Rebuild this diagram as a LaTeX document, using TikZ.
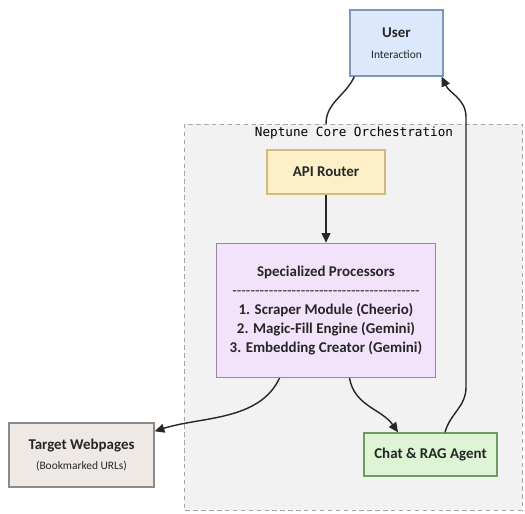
\documentclass[tikz,border=0pt]{standalone}
\usepackage{fontspec}
\setmainfont{Carlito}
\newfontfamily\monofont{DejaVu Sans Mono}
\newfontfamily\dashfont{Carlito}
\usetikzlibrary{calc, arrows, arrows.meta, positioning}

\definecolor{userfill}{HTML}{DCE8FB}
\definecolor{userdraw}{HTML}{7E98BC}
\definecolor{routerfill}{HTML}{FDF0C6}
\definecolor{routerdraw}{HTML}{D2B97C}
\definecolor{procfill}{HTML}{F2E3FA}
\definecolor{procdraw}{HTML}{9C82AA}
\definecolor{targetfill}{HTML}{EFE9E6}
\definecolor{targetdraw}{HTML}{8E8A88}
\definecolor{chatfill}{HTML}{DDF4D5}
\definecolor{chatdraw}{HTML}{6E9C60}

\begin{document}
\begin{tikzpicture} [node distance=0.96cm,
		% define styles
		basicnodestyle/.style={
			% The shape:
			rectangle,
			% The border:
			thick,
			% Text
			align=center,
			text=black!85,
			% Font
			font=\fontsize{8.5}{10.8}\selectfont\bfseries
		},
		usernodestyle/.style={
			basicnodestyle,
			% The size:
			minimum width=1.86cm, minimum height=1.32cm,
			% The colours:
			draw=userdraw, fill=userfill
		},
		routernodestyle/.style={
			basicnodestyle,
			% The size:
			minimum width=2.36cm, minimum height=0.88cm,
			% The colours:
			draw=routerdraw, fill=routerfill
		},
		procnodestyle/.style={
			basicnodestyle,
			% The size:
			minimum width=4.38cm, minimum height=2.68cm,
			% The colours:
			draw=procdraw, fill=procfill
		},
		targetnodestyle/.style={
			basicnodestyle,
			% The size:
			minimum width=2.9cm, minimum height=1.28cm,
			% The colours:
			draw=targetdraw, fill=targetfill
		},
		chatnodestyle/.style={
			basicnodestyle,
			% The size:
			minimum width=2.66cm, minimum height=0.86cm,
			% The colours:
			draw=chatdraw, fill=chatfill
		},
		clusterstyle/.style={
			% The border:
			draw=black!35, dash pattern=on 2.5pt off 2pt,
			% The filling:
			fill=black!5
		},
		arrow/.style={
			->,
			% Thickness
			thick,
			>={Triangle[length=5.5pt, width=5pt]},
			% Color
			black!85
		}]
		% end of style definition

		\useasboundingbox (0,0) rectangle (10.5,-10.28);

		% background cluster
		\draw [clusterstyle] (3.68,-2.48) rectangle (10.44,-10.2);
		\node (iCluster) at (7.08,-2.67) {\monofont\fontsize{7.2}{8}\selectfont Neptune Core Orchestration};
		\coordinate (cEntry) at (6.52,-2.48);

		% draw nodes
		\node (iUser) [usernodestyle] at (7.93,-0.86) {User\\[1pt]{\fontsize{6.5}{8}\selectfont\mdseries Interaction}};
		\node (iRouter) [routernodestyle] at (6.52,-3.44) {API Router};
		\node (iProcessors) [procnodestyle, below = of iRouter] {Specialized Processors\\
			{\dashfont\mdseries -----------------------------------------}\\
			1. Scraper Module (Cheerio)\\
			2. Magic-Fill Engine (Gemini)\\
			3. Embedding Creator (Gemini)};
		\node (iTarget) [targetnodestyle] at (1.63,-9.1) {Target Webpages\\[1pt]{\fontsize{6.5}{8}\selectfont\mdseries (Bookmarked URLs)}};
		\node (iChat) [chatnodestyle] at (8.61,-9.09) {Chat \& RAG Agent};

		% connect nodes
		\draw [thick, black!85] ([xshift=0.1cm]iUser.south west) to[out=-115, in=90] (cEntry);
		\draw [arrow] (iRouter) -- (iProcessors);
		\draw [arrow] ([xshift=-0.93cm]iProcessors.south) to[out=-115, in=18, looseness=0.9] ([yshift=-0.18cm]iTarget.north east);
		\draw [arrow] ([xshift=0.47cm]iProcessors.south) to[out=-80, in=125] ([xshift=-0.65cm]iChat.north);
		\draw [arrow] ([xshift=0.29cm]iChat.north) to[out=75, in=-90] ++(0.42,0.9) -- ++(0,5.4) to[out=90, in=-65] ([xshift=-0.04cm]iUser.south east);
	\end{tikzpicture}
\end{document}
